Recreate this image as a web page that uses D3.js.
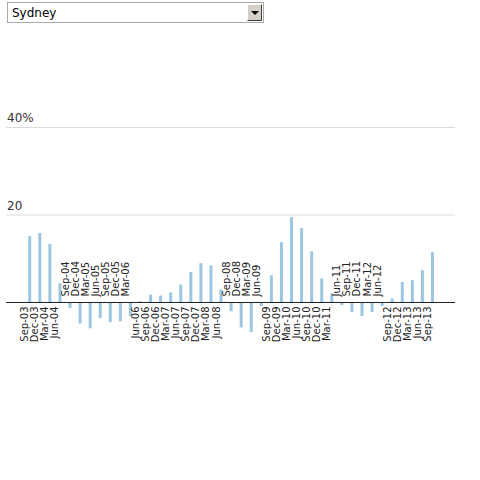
<!DOCTYPE html>
<html>
<head>
<meta charset="utf-8">
<script src="https://cdn.jsdelivr.net/npm/d3@7"></script>
<style>
  html, body { margin:0; padding:0; background:#fff; width:480px; height:480px; overflow:hidden; }
  #city { position:absolute; left:7px; top:2px; width:257px; height:21px; box-sizing:border-box;
          border:1px solid #a8a8a8; background:#fff; font:12px "DejaVu Sans", sans-serif; color:#000;
          padding:0 0 0 4px; margin:0; -webkit-appearance:none; appearance:none; outline:none; }
  #btn { position:absolute; left:247px; top:4px; width:15px; height:17px; box-sizing:border-box;
         background:#d4d0c8; border:1px solid; border-color:#fff #404040 #404040 #fff; pointer-events:none; }
  #btn:after { content:""; position:absolute; left:3px; top:6px; border-left:4px solid transparent;
               border-right:4px solid transparent; border-top:4px solid #000; }
  svg { position:absolute; left:0; top:0; }
</style>
</head>
<body>
<select id="city"><option>Sydney</option></select>
<div id="btn"></div>
<svg id="chart" width="480" height="480"></svg>
<script>
const cities = ["Sydney"];
const quarters = ["Sep-03","Dec-03","Mar-04","Jun-04","Sep-04","Dec-04","Mar-05","Jun-05","Sep-05","Dec-05",
  "Mar-06","Jun-06","Sep-06","Dec-06","Mar-07","Jun-07","Sep-07","Dec-07","Mar-08","Jun-08",
  "Sep-08","Dec-08","Mar-09","Jun-09","Sep-09","Dec-09","Mar-10","Jun-10","Sep-10","Dec-10",
  "Mar-11","Jun-11","Sep-11","Dec-11","Mar-12","Jun-12","Sep-12","Dec-12","Mar-13","Jun-13","Sep-13"];
const values = [15.2,15.9,13.4,4.4,-1.3,-4.8,-5.9,-3.6,-4.5,-4.3,
  -3.1,0.3,1.8,1.6,2.3,4.1,7.0,9.0,8.5,3.0,
  -2.0,-5.7,-6.8,-0.8,6.2,13.8,19.5,17.0,11.7,5.5,
  2.1,-0.6,-2.2,-3.1,-2.2,-0.8,0.9,4.7,5.1,7.4,11.5];
const yTicks = [20, 40];
const yTickLabels = ["20", "40%"];

const data = quarters.map((q, i) => ({q, v: values[i]}));

const svg = d3.select("#chart");
const x = d3.scaleBand().domain(quarters).range([24.7, 437.5]).padding(0);
const y = d3.scaleLinear().domain([0, 40]).range([302.5, 127.5]);
const gx0 = 6, gx1 = 455;
const barW = 3;

// gridlines + tick labels
const g = svg.append("g");
g.selectAll("line.grid").data(yTicks).join("line")
  .attr("class","grid")
  .attr("x1", gx0).attr("x2", gx1)
  .attr("y1", d => y(d)).attr("y2", d => y(d))
  .attr("stroke", "#dcdcdc").attr("stroke-width", 1);
g.selectAll("text.tick").data(yTicks).join("text")
  .attr("class","tick")
  .attr("x", 7).attr("y", d => y(d) - 5.5)
  .attr("font-family", "DejaVu Sans, sans-serif").attr("font-size", 12)
  .attr("fill", "#333")
  .text((d, i) => yTickLabels[i]);

// bars
svg.append("g").selectAll("rect").data(data).join("rect")
  .attr("x", d => x(d.q) + (x.bandwidth() - barW) / 2)
  .attr("width", barW)
  .attr("y", d => d.v >= 0 ? y(d.v) : y(0))
  .attr("height", d => Math.abs(y(d.v) - y(0)))
  .attr("fill", "#9fc6e1");

// baseline
svg.append("line")
  .attr("x1", gx0).attr("x2", gx1)
  .attr("y1", y(0)).attr("y2", y(0))
  .attr("stroke", "#222").attr("stroke-width", 1);

// labels
svg.append("g").selectAll("text").data(data).join("text")
  .attr("transform", d => {
    const cx = x(d.q) + x.bandwidth() / 2 - 1.5;
    const yy = d.v >= 0 ? y(0) + 4 : y(0) - 6;
    return `translate(${cx},${yy}) rotate(-90)`;
  })
  .attr("text-anchor", d => d.v >= 0 ? "end" : "start")
  .attr("font-family", "DejaVu Sans, sans-serif").attr("font-size", 10)
  .attr("fill", "#222")
  .text(d => d.q);
</script>
</body>
</html>
